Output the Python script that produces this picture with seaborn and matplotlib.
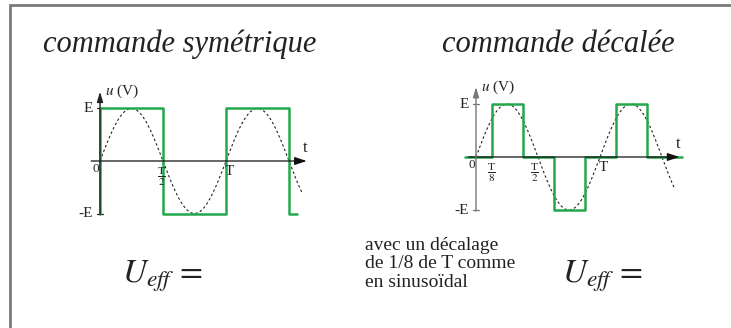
import numpy as np
import matplotlib
matplotlib.use('Agg')
import matplotlib.pyplot as plt
import seaborn as sns

# ── Données ────────────────────────────────────────────────────────
E = 1.0
T = 1.0
# commande symétrique : instants de commutation (en T) et niveaux (en E)
sym_t = [0, 0, 0.5, 1.0, 1.5, 1.56]
sym_u = [-1, 1, -1, 1, -1, -1]
# commande décalée de T/8
dec_t = [-0.09, 0.125, 0.375, 0.625, 0.875, 1.125, 1.375, 1.66]
dec_u = [0, 1, 0, -1, 0, 1, 0, 0]
sin_end = 1.6

GREEN = '#22a84c'
FRAME = '#7a7a7a'

sns.set_theme(style='white')
plt.rcParams['font.family'] = ['Liberation Serif', 'DejaVu Serif']
plt.rcParams['mathtext.fontset'] = 'stix'

W, H = 731, 328
fig = plt.figure(figsize=(W / 100, H / 100), dpi=100)

# ── Fond : cadre + textes en pixels ────────────────────────────────
bg = fig.add_axes([0, 0, 1, 1])
bg.set_xlim(0, W)
bg.set_ylim(H, 0)
bg.axis('off')
bg.plot([9.5, 9.5, W], [H, 4.5, 4.5], color=FRAME, lw=2, solid_joinstyle='miter')

bg.text(43, 52, 'commande symétrique', fontsize=22, style='italic', color='#222')
bg.text(442, 52, 'commande décalée', fontsize=22, style='italic', color='#222')
bg.text(122, 282, r'$U_{eff}\,=$', fontsize=24, color='#222')
bg.text(562, 283, r'$U_{eff}\,=$', fontsize=24, color='#222')
for i, ligne in enumerate(['avec un décalage', 'de 1/8 de T comme', 'en sinusoïdal']):
    bg.text(365, 250 + 18.5 * i, ligne, fontsize=14, color='#222')


def panel(x0, y0, tpx, epx, tt, uu, ticks, axcol, xstart):
    # axes placés pour que (0,0) tombe sur le pixel (x0, y0)
    xl, xr = -0.13, 1.75
    yb, yt = -1.25, 1.55
    left = (x0 + xl * tpx) / W
    width = (xr - xl) * tpx / W
    bottom = (H - (y0 - yb * epx)) / H
    height = (yt - yb) * epx / H
    ax = fig.add_axes([left, bottom, width, height])
    ax.set_xlim(xl, xr)
    ax.set_ylim(yb, yt)
    ax.patch.set_alpha(0)
    ax.axis('off')

    # axes avec flèches
    ax.annotate('', xy=(1.64, 0), xytext=(xstart, 0),
                arrowprops=dict(arrowstyle='-|>,head_length=0.6,head_width=0.2',
                                color='#111', lw=0.9, shrinkA=0, shrinkB=0))
    ax.annotate('', xy=(0, 1.32), xytext=(0, -1.02),
                arrowprops=dict(arrowstyle='-|>,head_length=0.5,head_width=0.15',
                                color=axcol, lw=1.0, shrinkA=0, shrinkB=0))
    for lev in (E, -E):
        ax.plot([-0.025, 0.025], [lev, lev], color=axcol, lw=0.9)

    # sinusoïde de référence
    ts = np.linspace(0, sin_end * T, 300)
    sns.lineplot(x=ts, y=E * np.sin(2 * np.pi * ts / T), ax=ax, color='#222',
                 lw=0.8, linestyle=(0, (2.2, 2.2)), sort=False, estimator=None)
    # signal de commande
    sns.lineplot(x=tt, y=uu, ax=ax, color=GREEN, lw=1.8, sort=False,
                 estimator=None, drawstyle='steps-post')

    # étiquettes
    ax.text(-0.06, E, 'E', ha='right', va='center', fontsize=11)
    ax.text(-0.06, -E, '-E', ha='right', va='center', fontsize=11)
    ax.text(-0.01, -0.04, '0', ha='right', va='top', fontsize=9.5)
    ax.text(0.04, 1.32, '$u$ (V)', ha='left', va='center', fontsize=11)
    ax.text(1.63, 0.1, 't', ha='center', va='bottom', fontsize=12)
    for pos, lab in ticks:
        ax.text(pos, -0.07, lab, ha='center', va='top', fontsize=11 if lab == 'T' else 11.5)
    return ax


panel(100, 161, 126, 52.5, sym_t, sym_u,
      [(0.49, r'$\frac{\mathrm{T}}{2}$'), (1.03, 'T')], '#222', -0.07)
panel(476, 157, 124, 53, dec_t, dec_u,
      [(0.125, r'$\frac{\mathrm{T}}{8}$'), (0.47, r'$\frac{\mathrm{T}}{2}$'), (1.03, 'T')],
      '#777', -0.06)

plt.savefig('out.png', dpi=100)
